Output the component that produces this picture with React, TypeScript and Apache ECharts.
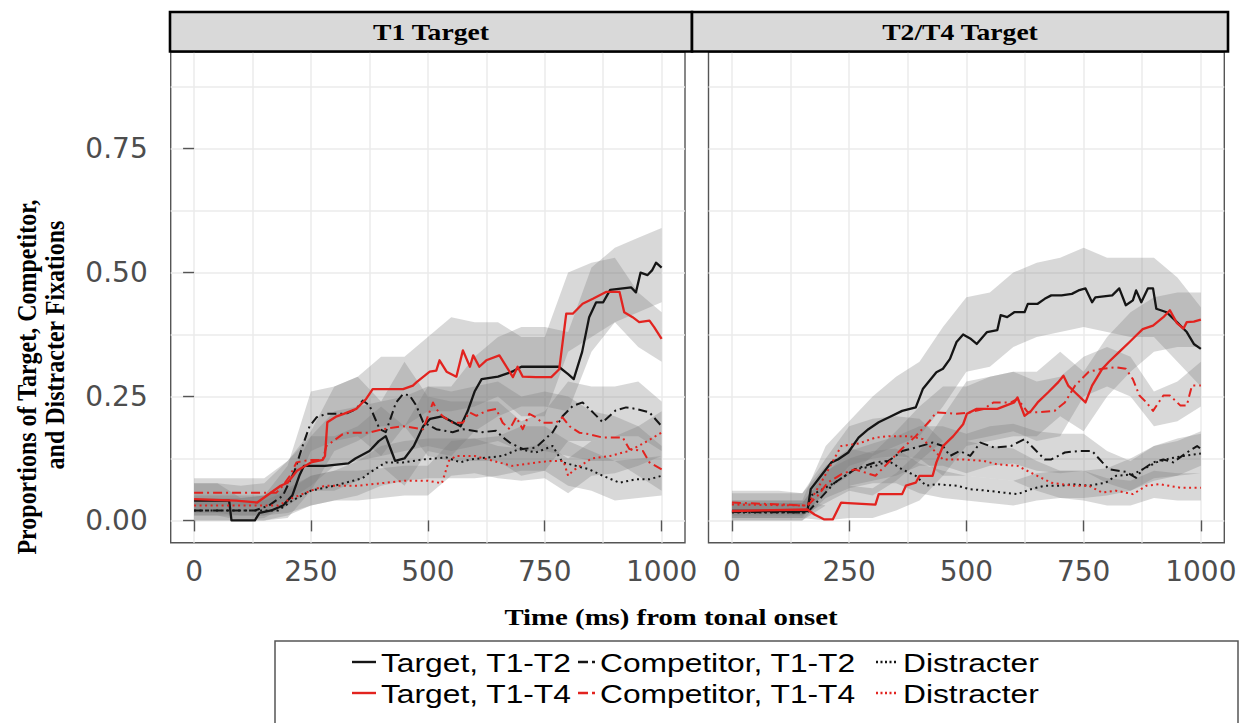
import React, { useEffect, useRef } from "react";
import * as echarts from "echarts";

type Pt = [number, number];
type Band = [number, number, number];

// Axis breaks
const TIME_TICKS = [0, 250, 500, 750, 1000];
const TIME_GRID = [0, 125, 250, 375, 500, 625, 750, 875, 1000];
const PROP_TICKS = [0, 0.25, 0.5, 0.75];
const PROP_GRID = [0, 0.125, 0.25, 0.375, 0.5, 0.625, 0.75, 0.875];

const PANEL_TITLES = ["T1 Target", "T2/T4 Target"];
const X_TITLE = "Time (ms) from tonal onset";
const Y_TITLE = ["Proportions of Target, Competitor,", "and Distracter Fixations"];
const SERIES_NAMES = [
  "Target, T1-T2",
  "Competitor, T1-T2",
  "Distracter, T1-T2",
  "Target, T1-T4",
  "Competitor, T1-T4",
  "Distracter, T1-T4",
];
const LEGEND_LABELS = [
  ["Target, T1-T2", "Competitor, T1-T2", "Distracter"],
  ["Target, T1-T4", "Competitor, T1-T4", "Distracter"],
];

// ---------- Panel 1: T1 target ----------
const t1_target_t12: Pt[] = [
  [0, 0.04], [75, 0.04], [80, 0.0], [130, 0.0], [140, 0.015], [165, 0.02], [190, 0.03], [210, 0.05],
  [225, 0.09], [235, 0.11], [280, 0.11], [330, 0.115], [345, 0.125], [375, 0.14], [395, 0.16], [410, 0.17],
  [420, 0.145], [430, 0.12], [450, 0.125], [470, 0.15], [490, 0.19], [505, 0.205], [530, 0.21], [550, 0.2],
  [570, 0.19], [585, 0.22], [600, 0.26], [615, 0.285], [650, 0.29], [680, 0.3], [700, 0.31], [780, 0.31],
  [800, 0.295], [812, 0.285], [830, 0.34], [845, 0.41], [860, 0.44], [875, 0.44], [890, 0.465], [935, 0.47],
  [945, 0.46], [955, 0.5], [970, 0.495], [980, 0.505], [988, 0.52], [1000, 0.51],
];
const t1_comp_t12: Pt[] = [
  [0, 0.02], [130, 0.02], [160, 0.03], [190, 0.05], [215, 0.1], [232, 0.15], [247, 0.19], [262, 0.208],
  [283, 0.215], [325, 0.215], [347, 0.225], [361, 0.242], [375, 0.232], [397, 0.184], [410, 0.178],
  [432, 0.238], [447, 0.255], [461, 0.252], [475, 0.232], [490, 0.198], [518, 0.184], [553, 0.178],
  [575, 0.184], [617, 0.178], [646, 0.181], [660, 0.168], [675, 0.157], [703, 0.144], [731, 0.147],
  [767, 0.178], [788, 0.21], [810, 0.231], [831, 0.238], [853, 0.218], [874, 0.198], [902, 0.222],
  [924, 0.228], [945, 0.225], [974, 0.218], [1000, 0.19],
];
const t1_dist_t12: Pt[] = [
  [0, 0.02], [180, 0.02], [210, 0.04], [250, 0.06], [300, 0.07], [340, 0.08], [360, 0.085], [375, 0.096],
  [410, 0.117], [447, 0.117], [490, 0.123], [540, 0.127], [570, 0.117], [590, 0.123], [660, 0.13],
  [695, 0.144], [731, 0.137], [767, 0.15], [788, 0.117], [817, 0.11], [845, 0.103], [874, 0.09],
  [910, 0.076], [945, 0.083], [974, 0.083], [1000, 0.09],
];
const t1_target_t14: Pt[] = [
  [0, 0.043], [90, 0.04], [135, 0.036], [185, 0.07], [200, 0.076], [220, 0.1], [250, 0.117], [275, 0.122],
  [280, 0.13], [285, 0.198], [305, 0.21], [320, 0.215], [347, 0.225], [368, 0.245], [382, 0.265],
  [447, 0.265], [468, 0.272], [476, 0.279], [504, 0.3], [518, 0.302], [525, 0.323], [540, 0.3],
  [561, 0.29], [575, 0.343], [590, 0.31], [597, 0.333], [610, 0.31], [625, 0.323], [653, 0.333],
  [682, 0.289], [692, 0.31], [703, 0.29], [731, 0.289], [764, 0.289], [781, 0.305], [796, 0.417],
  [810, 0.417], [831, 0.437], [853, 0.447], [881, 0.461], [910, 0.461], [920, 0.42], [938, 0.41],
  [952, 0.4], [974, 0.403], [984, 0.39], [1000, 0.366],
];
const t1_comp_t14: Pt[] = [
  [0, 0.056], [176, 0.056], [190, 0.07], [205, 0.09], [219, 0.117], [247, 0.122], [275, 0.122],
  [283, 0.15], [318, 0.174], [333, 0.177], [375, 0.177], [403, 0.184], [447, 0.19], [490, 0.184],
  [511, 0.238], [518, 0.225], [532, 0.21], [553, 0.197], [575, 0.197], [589, 0.218], [604, 0.211],
  [625, 0.221], [646, 0.225], [660, 0.197], [675, 0.184], [689, 0.208], [703, 0.184], [717, 0.215],
  [731, 0.208], [745, 0.197], [774, 0.197], [788, 0.208], [803, 0.19], [824, 0.177], [845, 0.174],
  [874, 0.167], [917, 0.167], [931, 0.144], [960, 0.14], [974, 0.117], [1000, 0.103],
];
const t1_dist_t14: Pt[] = [
  [0, 0.03], [180, 0.03], [210, 0.045], [250, 0.06], [280, 0.07], [350, 0.07], [400, 0.075], [450, 0.08],
  [500, 0.08], [530, 0.075], [545, 0.12], [560, 0.13], [600, 0.13], [640, 0.12], [680, 0.11], [720, 0.115],
  [760, 0.12], [790, 0.12], [800, 0.09], [810, 0.1], [850, 0.125], [890, 0.13], [930, 0.14], [960, 0.155],
  [1000, 0.177],
];

// ribbons: [time, lower, upper]
const t1_target_t12_band: Band[] = [
  [0, 0.01, 0.075], [50, 0.01, 0.075], [100, 0, 0.045], [150, 0, 0.05], [200, 0.005, 0.08], [250, 0.06, 0.17],
  [300, 0.06, 0.17], [350, 0.08, 0.19], [400, 0.11, 0.23], [450, 0.07, 0.19], [500, 0.14, 0.27],
  [550, 0.13, 0.27], [600, 0.18, 0.33], [650, 0.21, 0.37], [700, 0.23, 0.39], [750, 0.23, 0.39],
  [800, 0.22, 0.38], [850, 0.34, 0.51], [900, 0.4, 0.55], [950, 0.42, 0.57], [1000, 0.44, 0.59],
];
const t1_comp_t12_band: Band[] = [
  [0, 0, 0.045], [50, 0, 0.045], [100, 0, 0.045], [150, 0.005, 0.05], [200, 0.03, 0.11], [250, 0.14, 0.26],
  [300, 0.16, 0.27], [350, 0.17, 0.29], [400, 0.13, 0.24], [450, 0.19, 0.32], [500, 0.13, 0.25],
  [550, 0.12, 0.24], [600, 0.12, 0.24], [650, 0.12, 0.24], [700, 0.09, 0.2], [750, 0.1, 0.22],
  [800, 0.16, 0.28], [850, 0.16, 0.27], [900, 0.17, 0.27], [950, 0.17, 0.28], [1000, 0.14, 0.24],
];
const t1_dist_t12_band: Band[] = [
  [0, 0, 0.04], [50, 0, 0.04], [100, 0, 0.04], [150, 0, 0.04], [200, 0.01, 0.06], [250, 0.03, 0.09],
  [300, 0.04, 0.1], [350, 0.05, 0.12], [400, 0.07, 0.15], [450, 0.08, 0.16], [500, 0.085, 0.165],
  [550, 0.085, 0.165], [600, 0.085, 0.165], [650, 0.09, 0.17], [700, 0.1, 0.19], [750, 0.1, 0.19],
  [800, 0.07, 0.16], [850, 0.06, 0.14], [900, 0.04, 0.12], [950, 0.045, 0.125], [1000, 0.05, 0.13],
];
const t1_target_t14_band: Band[] = [
  [0, 0.015, 0.075], [50, 0.015, 0.075], [100, 0.01, 0.07], [150, 0.01, 0.075], [200, 0.03, 0.12],
  [250, 0.06, 0.18], [300, 0.14, 0.27], [350, 0.16, 0.29], [400, 0.19, 0.33], [450, 0.19, 0.33],
  [500, 0.22, 0.37], [550, 0.22, 0.41], [600, 0.23, 0.4], [650, 0.25, 0.4], [700, 0.21, 0.37],
  [750, 0.21, 0.37], [800, 0.34, 0.5], [850, 0.37, 0.52], [900, 0.4, 0.53], [950, 0.35, 0.46],
  [1000, 0.32, 0.42],
];
const t1_comp_t14_band: Band[] = [
  [0, 0.03, 0.085], [50, 0.03, 0.085], [100, 0.03, 0.085], [150, 0.03, 0.085], [200, 0.04, 0.12],
  [250, 0.07, 0.17], [300, 0.11, 0.22], [350, 0.12, 0.23], [400, 0.13, 0.24], [450, 0.14, 0.25],
  [500, 0.15, 0.27], [550, 0.14, 0.26], [600, 0.15, 0.27], [650, 0.16, 0.28], [700, 0.14, 0.25],
  [750, 0.14, 0.26], [800, 0.13, 0.25], [850, 0.12, 0.22], [900, 0.12, 0.21], [950, 0.09, 0.19],
  [1000, 0.06, 0.15],
];
const t1_dist_t14_band: Band[] = [
  [0, 0.01, 0.05], [50, 0.01, 0.05], [100, 0.01, 0.05], [150, 0.01, 0.05], [200, 0.015, 0.065],
  [250, 0.03, 0.09], [300, 0.04, 0.1], [350, 0.04, 0.1], [400, 0.045, 0.105], [450, 0.05, 0.11],
  [500, 0.05, 0.11], [550, 0.09, 0.16], [600, 0.095, 0.165], [650, 0.085, 0.15], [700, 0.08, 0.145],
  [750, 0.085, 0.155], [800, 0.055, 0.125], [850, 0.09, 0.16], [900, 0.095, 0.17], [950, 0.11, 0.19],
  [1000, 0.13, 0.22],
];

// ---------- Panel 2: T2/T4 target ----------
const t24_target_t12: Pt[] = [
  [0, 0.019], [161, 0.019], [168, 0.063], [190, 0.09], [212, 0.117], [226, 0.123], [248, 0.137],
  [270, 0.167], [291, 0.184], [313, 0.198], [335, 0.208], [363, 0.221], [392, 0.228], [407, 0.265],
  [436, 0.299], [450, 0.306], [465, 0.326], [479, 0.36], [493, 0.375], [508, 0.367], [522, 0.356],
  [544, 0.38], [566, 0.384], [573, 0.414], [587, 0.41], [602, 0.42], [624, 0.42], [631, 0.437],
  [652, 0.437], [667, 0.447], [681, 0.454], [703, 0.454], [725, 0.457], [739, 0.464], [754, 0.468],
  [768, 0.44], [775, 0.45], [811, 0.454], [826, 0.468], [840, 0.434], [855, 0.444], [862, 0.464],
  [873, 0.44], [887, 0.468], [898, 0.468], [905, 0.427], [927, 0.42], [949, 0.4], [970, 0.38],
  [985, 0.356], [1000, 0.346],
];
const t24_comp_t12: Pt[] = [
  [0, 0.017], [161, 0.016], [219, 0.076], [262, 0.103], [305, 0.117], [334, 0.12], [363, 0.14],
  [392, 0.147], [428, 0.157], [450, 0.15], [465, 0.13], [486, 0.14], [508, 0.13], [530, 0.157],
  [559, 0.147], [595, 0.15], [624, 0.164], [645, 0.144], [667, 0.123], [681, 0.123], [710, 0.137],
  [739, 0.14], [768, 0.14], [790, 0.117], [804, 0.103], [840, 0.098], [862, 0.086], [876, 0.103],
  [898, 0.117], [920, 0.123], [941, 0.117], [970, 0.137], [992, 0.15], [1000, 0.144],
];
const t24_dist_t12: Pt[] = [
  [0, 0.016], [161, 0.016], [168, 0.05], [219, 0.076], [262, 0.103], [306, 0.11], [334, 0.12],
  [363, 0.103], [392, 0.09], [414, 0.07], [436, 0.073], [479, 0.07], [508, 0.063], [544, 0.06],
  [580, 0.056], [609, 0.053], [638, 0.063], [667, 0.07], [703, 0.07], [725, 0.073], [761, 0.07],
  [797, 0.076], [819, 0.09], [855, 0.093], [876, 0.103], [905, 0.117], [934, 0.125], [963, 0.13],
  [1000, 0.135],
];
const t24_target_t14: Pt[] = [
  [0, 0.019], [161, 0.022], [176, 0.012], [197, 0.002], [215, 0.002], [233, 0.036], [248, 0.035],
  [306, 0.032], [313, 0.053], [363, 0.053], [371, 0.07], [392, 0.076], [400, 0.09], [428, 0.09],
  [436, 0.117], [450, 0.15], [472, 0.17], [493, 0.194], [501, 0.215], [522, 0.225], [566, 0.225],
  [602, 0.238], [609, 0.248], [624, 0.211], [638, 0.221], [652, 0.238], [674, 0.258], [696, 0.279],
  [707, 0.292], [717, 0.272], [732, 0.258], [754, 0.238], [768, 0.272], [790, 0.306], [804, 0.32],
  [826, 0.34], [848, 0.36], [862, 0.373], [876, 0.386], [898, 0.393], [920, 0.41], [934, 0.424],
  [949, 0.398], [963, 0.387], [970, 0.4], [985, 0.401], [1000, 0.405],
];
const t24_comp_t14: Pt[] = [
  [0, 0.036], [161, 0.03], [183, 0.05], [204, 0.076], [233, 0.093], [262, 0.103], [306, 0.09],
  [334, 0.117], [363, 0.145], [392, 0.17], [421, 0.2], [436, 0.218], [479, 0.215], [508, 0.218],
  [537, 0.225], [558, 0.238], [595, 0.238], [609, 0.245], [631, 0.218], [652, 0.218], [688, 0.221],
  [710, 0.238], [732, 0.272], [761, 0.3], [790, 0.306], [819, 0.309], [840, 0.306], [855, 0.285],
  [869, 0.252], [884, 0.238], [898, 0.221], [920, 0.252], [934, 0.252], [956, 0.232], [970, 0.232],
  [981, 0.272], [1000, 0.272],
];
const t24_dist_t14: Pt[] = [
  [0, 0.032], [161, 0.03], [190, 0.076], [233, 0.15], [270, 0.155], [306, 0.167], [334, 0.17],
  [378, 0.17], [407, 0.164], [428, 0.144], [450, 0.123], [493, 0.123], [537, 0.12], [566, 0.113],
  [609, 0.11], [638, 0.096], [681, 0.076], [725, 0.07], [761, 0.07], [790, 0.056], [819, 0.06],
  [855, 0.053], [884, 0.07], [912, 0.073], [956, 0.066], [1000, 0.066],
];

const t24_target_t12_band: Band[] = [
  [0, 0.005, 0.04], [50, 0.005, 0.04], [100, 0.005, 0.04], [150, 0.005, 0.04], [200, 0.06, 0.15],
  [250, 0.09, 0.2], [300, 0.13, 0.25], [350, 0.15, 0.29], [400, 0.17, 0.32], [450, 0.23, 0.39],
  [500, 0.3, 0.45], [550, 0.31, 0.46], [600, 0.35, 0.5], [650, 0.37, 0.52], [700, 0.38, 0.53],
  [750, 0.39, 0.55], [800, 0.38, 0.53], [850, 0.37, 0.53], [900, 0.37, 0.53], [950, 0.32, 0.49],
  [1000, 0.27, 0.43],
];
const t24_comp_t12_band: Band[] = [
  [0, 0, 0.035], [50, 0, 0.035], [100, 0, 0.035], [150, 0, 0.035], [200, 0.03, 0.095], [250, 0.07, 0.14],
  [300, 0.08, 0.155], [350, 0.09, 0.17], [400, 0.11, 0.19], [450, 0.11, 0.19], [500, 0.095, 0.175],
  [550, 0.11, 0.19], [600, 0.115, 0.195], [650, 0.1, 0.18], [700, 0.095, 0.175], [750, 0.1, 0.175],
  [800, 0.075, 0.14], [850, 0.06, 0.12], [900, 0.085, 0.15], [950, 0.09, 0.16], [1000, 0.11, 0.18],
];
const t24_dist_t12_band: Band[] = [
  [0, 0, 0.035], [50, 0, 0.035], [100, 0, 0.035], [150, 0, 0.035], [200, 0.045, 0.1], [250, 0.065, 0.125],
  [300, 0.075, 0.14], [350, 0.075, 0.145], [400, 0.055, 0.115], [450, 0.045, 0.1], [500, 0.04, 0.09],
  [550, 0.035, 0.085], [600, 0.03, 0.08], [650, 0.04, 0.095], [700, 0.045, 0.1], [750, 0.045, 0.1],
  [800, 0.05, 0.105], [850, 0.06, 0.125], [900, 0.08, 0.15], [950, 0.09, 0.165], [1000, 0.095, 0.175],
];
const t24_target_t14_band: Band[] = [
  [0, 0.005, 0.04], [50, 0.005, 0.04], [100, 0.005, 0.04], [150, 0.005, 0.04], [200, 0, 0.03],
  [250, 0.005, 0.07], [300, 0.005, 0.065], [350, 0.02, 0.095], [400, 0.04, 0.14], [450, 0.09, 0.21],
  [500, 0.15, 0.28], [550, 0.16, 0.29], [600, 0.17, 0.3], [650, 0.17, 0.3], [700, 0.21, 0.34],
  [750, 0.18, 0.3], [800, 0.25, 0.37], [850, 0.3, 0.42], [900, 0.34, 0.45], [950, 0.35, 0.46],
  [1000, 0.35, 0.46],
];
const t24_comp_t14_band: Band[] = [
  [0, 0.015, 0.06], [50, 0.015, 0.06], [100, 0.015, 0.06], [150, 0.01, 0.055], [200, 0.035, 0.11],
  [250, 0.06, 0.145], [300, 0.05, 0.135], [350, 0.08, 0.18], [400, 0.12, 0.23], [450, 0.16, 0.27],
  [500, 0.16, 0.27], [550, 0.17, 0.29], [600, 0.18, 0.3], [650, 0.16, 0.28], [700, 0.17, 0.29],
  [750, 0.25, 0.33], [800, 0.27, 0.35], [850, 0.25, 0.33], [900, 0.19, 0.26], [950, 0.2, 0.28],
  [1000, 0.23, 0.32],
];
const t24_dist_t14_band: Band[] = [
  [0, 0.01, 0.055], [50, 0.01, 0.055], [100, 0.01, 0.055], [150, 0.01, 0.055], [200, 0.055, 0.125],
  [250, 0.11, 0.19], [300, 0.125, 0.205], [350, 0.13, 0.21], [400, 0.125, 0.205], [450, 0.09, 0.16],
  [500, 0.09, 0.16], [550, 0.085, 0.15], [600, 0.08, 0.145], [650, 0.06, 0.12], [700, 0.045, 0.1],
  [750, 0.04, 0.1], [800, 0.03, 0.085], [850, 0.03, 0.08], [900, 0.045, 0.1], [950, 0.04, 0.095],
  [1000, 0.04, 0.095],
];

const PANEL_LINES: Pt[][][] = [
  [t1_target_t12, t1_comp_t12, t1_dist_t12, t1_target_t14, t1_comp_t14, t1_dist_t14],
  [t24_target_t12, t24_comp_t12, t24_dist_t12, t24_target_t14, t24_comp_t14, t24_dist_t14],
];
const PANEL_BANDS: Band[][][] = [
  [t1_target_t12_band, t1_comp_t12_band, t1_dist_t12_band, t1_target_t14_band, t1_comp_t14_band, t1_dist_t14_band],
  [t24_target_t12_band, t24_comp_t12_band, t24_dist_t12_band, t24_target_t14_band, t24_comp_t14_band, t24_dist_t14_band],
];

// ---------- styling ----------
const BLACK = "#151515";
const RED = "#e2231f";
const BAND_FILL = "rgba(120,120,120,0.29)";
const GRID_LINE = "#ebebeb";
const FRAME = "#555555";
const AXIS_TEXT = "#4d4d4d";
const SERIF = '"Liberation Serif", "Times New Roman", serif';
const SANS = '"Liberation Sans", Arial, sans-serif';
const TICK_FONT = '"DejaVu Sans", sans-serif';

const DASH_DOT = [9, 4, 2, 4];
const DOTTED = [2, 3.5];
const STYLES = [
  { color: BLACK, dash: "solid" as any, width: 2.3, key: null as number[] | null },
  { color: BLACK, dash: DASH_DOT as any, width: 2, key: [10, 4, 3, 20] },
  { color: BLACK, dash: DOTTED as any, width: 2, key: [2, 2.5] },
  { color: RED, dash: "solid" as any, width: 2.3, key: null as number[] | null },
  { color: RED, dash: DASH_DOT as any, width: 2, key: [10, 4, 3, 20] },
  { color: RED, dash: DOTTED as any, width: 2, key: [2, 2.5] },
];

const GRIDS = [
  { left: 170.7, top: 52, width: 514.3, height: 490.7 },
  { left: 708.5, top: 52, width: 515.8, height: 490.7 },
];

function buildAxes(g: number, withYLabels: boolean) {
  const x = [
    {
      gridIndex: g,
      type: "value",
      min: -50,
      max: 1050,
      axisLine: { show: false },
      axisTick: { show: true, length: 11, customValues: TIME_TICKS, lineStyle: { color: FRAME, width: 1.4 } },
      axisLabel: {
        show: true,
        customValues: TIME_TICKS,
        margin: 15,
        fontFamily: TICK_FONT,
        fontSize: 28,
        color: AXIS_TEXT,
        formatter: (v: number) => String(v),
      },
      splitLine: { show: false },
    },
    {
      gridIndex: g,
      type: "value",
      min: -50,
      max: 1050,
      position: "bottom",
      axisLine: { show: false },
      axisTick: { show: false, customValues: TIME_GRID },
      axisLabel: { show: false },
      splitLine: { show: true, lineStyle: { color: GRID_LINE, width: 1.5 } },
    },
  ];
  const y = [
    {
      gridIndex: g,
      type: "value",
      min: -0.045,
      max: 0.945,
      axisLine: { show: false },
      axisTick: {
        show: withYLabels,
        length: 11,
        customValues: PROP_TICKS,
        lineStyle: { color: FRAME, width: 1.4 },
      },
      axisLabel: {
        show: withYLabels,
        customValues: PROP_TICKS,
        margin: 23,
        fontFamily: TICK_FONT,
        fontSize: 28,
        color: AXIS_TEXT,
        formatter: (v: number) => v.toFixed(2),
      },
      splitLine: { show: false },
    },
    {
      gridIndex: g,
      type: "value",
      min: -0.045,
      max: 0.945,
      position: "left",
      axisLine: { show: false },
      axisTick: { show: false, customValues: PROP_GRID },
      axisLabel: { show: false },
      splitLine: { show: true, lineStyle: { color: GRID_LINE, width: 1.5 } },
    },
  ];
  return { x, y };
}

// one filled polygon per ribbon, lower edge forward and upper edge back
function ribbonSeries(band: Band[], axisIdx: number) {
  return {
    type: "custom",
    xAxisIndex: axisIdx,
    yAxisIndex: axisIdx,
    data: band,
    encode: { x: 0, y: [1, 2] },
    silent: true,
    z: 2,
    renderItem: (params: any, api: any) => {
      if (params.dataIndex !== 0) return null;
      const pts: number[][] = [];
      for (let k = 0; k < band.length; k++) pts.push(api.coord([band[k][0], band[k][1]]));
      for (let k = band.length - 1; k >= 0; k--) pts.push(api.coord([band[k][0], band[k][2]]));
      return {
        type: "polygon",
        shape: { points: pts },
        style: { fill: BAND_FILL, stroke: "none" },
      };
    },
  };
}

function buildSeries() {
  const out: any[] = [];
  for (let p = 0; p < 2; p++) {
    const axisIdx = p * 2;
    PANEL_BANDS[p].forEach((band) => out.push(ribbonSeries(band, axisIdx)));
    PANEL_LINES[p].forEach((data, i) => {
      const st = STYLES[i];
      out.push({
        type: "line",
        name: SERIES_NAMES[i],
        xAxisIndex: axisIdx,
        yAxisIndex: axisIdx,
        data,
        symbol: "none",
        showSymbol: false,
        silent: true,
        z: 4,
        lineStyle: { color: st.color, width: st.width, type: st.dash, cap: "butt", join: "round" },
      });
    });
  }
  return out;
}

function buildGraphics() {
  const els: any[] = [];
  // facet strips
  const strips = [
    { x: 170, w: 522 },
    { x: 692, w: 536 },
  ];
  strips.forEach((s, i) => {
    els.push({
      type: "rect",
      shape: { x: s.x, y: 12, width: s.w, height: 39.5 },
      style: { fill: "#d9d9d9", stroke: "#000", lineWidth: 2.6 },
      z: 20,
    });
    els.push({
      type: "text",
      x: s.x + s.w / 2,
      y: 32,
      scaleX: 1.15,
      style: {
        text: PANEL_TITLES[i],
        fontFamily: SERIF,
        fontWeight: "bold",
        fontSize: 24,
        fill: "#000",
        align: "center",
        verticalAlign: "middle",
      },
      z: 21,
    });
  });
  // axis titles
  els.push({
    type: "text",
    x: 671,
    y: 617,
    scaleX: 1.2,
    style: {
      text: X_TITLE,
      fontFamily: SERIF,
      fontWeight: "bold",
      fontSize: 24,
      fill: "#000",
      align: "center",
      verticalAlign: "middle",
    },
    z: 21,
  });
  const yPos = [
    { x: 27, y: 377 },
    { x: 55, y: 345 },
  ];
  Y_TITLE.forEach((t, i) => {
    els.push({
      type: "text",
      x: yPos[i].x,
      y: yPos[i].y,
      rotation: Math.PI / 2,
      scaleY: 1.1,
      style: {
        text: t,
        fontFamily: SERIF,
        fontWeight: "bold",
        fontSize: 24,
        fill: "#000",
        align: "center",
        verticalAlign: "middle",
      },
      z: 21,
    });
  });
  // legend box
  els.push({
    type: "rect",
    shape: { x: 275, y: 641, width: 963, height: 100 },
    style: { fill: "#fff", stroke: "#555", lineWidth: 1.5 },
    z: 20,
  });
  const rowY = [662, 693];
  const keyX = [
    [352, 376],
    [578, 596],
    [876, 898],
  ];
  const textX = [381, 600, 903];
  for (let r = 0; r < 2; r++) {
    for (let c = 0; c < 3; c++) {
      const st = STYLES[r * 3 + c];
      els.push({
        type: "line",
        shape: { x1: keyX[c][0], y1: rowY[r], x2: keyX[c][1], y2: rowY[r] },
        style: {
          stroke: st.color,
          lineWidth: 2.4,
          lineDash: st.key,
        },
        z: 21,
      });
      els.push({
        type: "text",
        x: textX[c],
        y: rowY[r] + 1,
        scaleX: 1.27,
        style: {
          text: LEGEND_LABELS[r][c],
          fontFamily: SANS,
          fontSize: 25,
          fill: "#000",
          align: "left",
          verticalAlign: "middle",
        },
        z: 21,
      });
    }
  }
  return els;
}

export default function App() {
  const ref = useRef<HTMLDivElement>(null);
  useEffect(() => {
    if (!ref.current) return;
    const chart = echarts.init(ref.current, null, { renderer: "svg" });
    const a0 = buildAxes(0, true);
    const a1 = buildAxes(1, false);
    chart.setOption({
      animation: false,
      backgroundColor: "#fff",
      grid: GRIDS.map((g) => ({
        ...g,
        show: true,
        borderColor: FRAME,
        borderWidth: 1.4,
        backgroundColor: "transparent",
        containLabel: false,
      })),
      xAxis: [...a0.x, ...a1.x],
      yAxis: [...a0.y, ...a1.y],
      series: buildSeries(),
      graphic: { elements: buildGraphics() },
    });
    return () => chart.dispose();
  }, []);
  return (
    <div
      ref={ref}
      style={{ position: "fixed", left: 0, top: 0, width: 1245, height: 723, background: "#fff" }}
    />
  );
}
